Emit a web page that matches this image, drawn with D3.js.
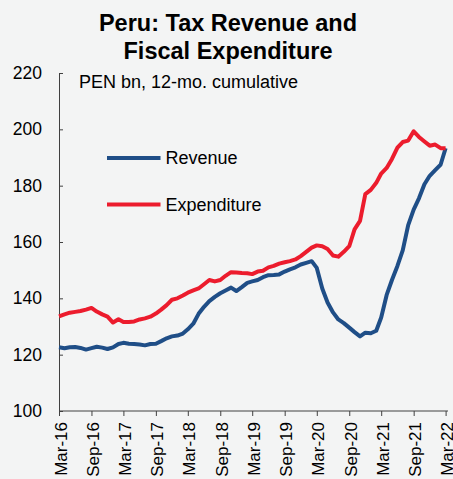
<!DOCTYPE html>
<html>
<head>
<meta charset="utf-8">
<script src="https://cdn.jsdelivr.net/npm/d3@7"></script>
<style>
html,body{margin:0;padding:0;background:#f3f4f4;}
svg{display:block;font-family:"Liberation Sans",Arial,sans-serif;}
</style>
</head>
<body>
<svg id="chart" width="453" height="479"></svg>
<script>
const titleLines = ["Peru: Tax Revenue and", "Fiscal Expenditure"];
const subtitle = "PEN bn, 12-mo. cumulative";
const startMonth = "2016-03";
const revenue = [122.6,122.3,122.6,122.7,122.4,121.8,122.3,122.8,122.5,122.0,122.6,123.8,124.2,123.9,123.8,123.6,123.3,123.8,123.9,124.8,125.8,126.5,126.8,127.5,129.0,131.0,134.5,137.0,139.0,140.5,141.8,142.8,143.8,142.6,144.0,145.5,146.0,146.5,147.5,148.2,148.3,148.5,149.5,150.3,151.0,152.0,152.6,153.2,150.8,143.5,138.5,135.0,132.5,131.2,129.6,128.0,126.5,127.8,127.6,128.5,133.2,141.2,146.5,151.5,157.0,166.0,171.5,175.5,180.5,183.5,185.5,187.5,193.3];
const expenditure = [133.6,134.3,134.9,135.2,135.5,136.0,136.6,135.3,134.3,133.5,131.4,132.6,131.6,131.6,131.8,132.5,132.9,133.5,134.6,136.0,137.6,139.5,140.0,141.0,142.0,142.8,143.5,145.0,146.5,146.0,146.5,148.0,149.3,149.2,149.0,148.9,148.6,149.5,149.8,151.0,151.5,152.3,152.8,153.2,153.8,155.0,156.5,158.0,158.8,158.5,157.5,155.2,154.8,156.5,158.5,164.5,167.5,177.0,178.5,181.0,184.3,186.3,189.5,193.5,195.5,196.0,199.3,197.3,195.7,194.2,194.6,193.3,193.3];
const xTickLabels = ["Mar-16","Sep-16","Mar-17","Sep-17","Mar-18","Sep-18","Mar-19","Sep-19","Mar-20","Sep-20","Mar-21","Sep-21","Mar-22"];
const yTicks = [100,120,140,160,180,200,220];
const seriesNames = ["Revenue","Expenditure"];
const colors = ["#1f4e87","#ec1c2d"];

const svg = d3.select("#chart");
const m = {left:59, top:73, right:445.6, bottom:411};

const parse = d3.timeParse("%Y-%m");
const t0 = parse(startMonth);
const dates = revenue.map((_, i) => d3.timeMonth.offset(t0, i));

const x = d3.scaleTime().domain([dates[0], dates[dates.length-1]]).range([m.left, m.right]);
const y = d3.scaleLinear().domain([100,220]).range([m.bottom, m.top]);

// Title
svg.append("g").selectAll("text").data(titleLines).join("text")
  .attr("x", 228).attr("y", (d,i) => 31 + i*28)
  .attr("text-anchor","middle").attr("font-weight","bold").attr("font-size",23.5)
  .attr("fill","#000").text(d => d);

// Y axis
const yAxis = d3.axisLeft(y).tickValues(yTicks).tickSize(0).tickPadding(17);
const gy = svg.append("g").attr("transform",`translate(${m.left},0)`).call(yAxis);
gy.select(".domain").attr("stroke","#404040");
gy.selectAll("text").attr("font-size",17.5).attr("fill","#000").attr("font-family","Liberation Sans, Arial, sans-serif");
gy.selectAll(".tick").append("line").attr("x1",0).attr("x2",4).attr("stroke","#404040");

// X axis
const xTickDates = xTickLabels.map((_, i) => d3.timeMonth.offset(t0, i*6));
const xAxis = d3.axisBottom(x).tickValues(xTickDates).tickSize(5).tickFormat((d,i) => xTickLabels[i]).tickSizeOuter(0);
const gx = svg.append("g").attr("transform",`translate(0,${m.bottom})`).call(xAxis);
gx.select(".domain").attr("stroke","#404040").attr("d", `M${m.left},0H448`);
gx.selectAll("line").attr("stroke","#404040");
gx.selectAll("text")
  .attr("font-size",17).attr("fill","#000").attr("font-family","Liberation Sans, Arial, sans-serif")
  .attr("text-anchor","end").attr("transform","rotate(-90)")
  .attr("x",-11).attr("y",1).attr("dy","0.36em");

// Subtitle
svg.append("text").attr("x",79).attr("y",87.5).attr("font-size",18).attr("fill","#000").text(subtitle);

// Lines
const line = d3.line().x((d,i) => x(dates[i])).y(d => y(d));
[revenue, expenditure].forEach((s, k) => {
  svg.append("path").datum(s).attr("d", line).attr("fill","none")
    .attr("stroke", colors[k]).attr("stroke-width",4).attr("stroke-linejoin","round");
});

// Legend
const lg = svg.append("g");
[158, 204.5].forEach((ly, k) => {
  lg.append("line").attr("x1",107).attr("x2",160.5).attr("y1",ly).attr("y2",ly)
    .attr("stroke",colors[k]).attr("stroke-width",4);
  lg.append("text").attr("x",165.5).attr("y",ly+6.3).attr("font-size",18).attr("fill","#000").text(seriesNames[k]);
});
</script>
</body>
</html>
